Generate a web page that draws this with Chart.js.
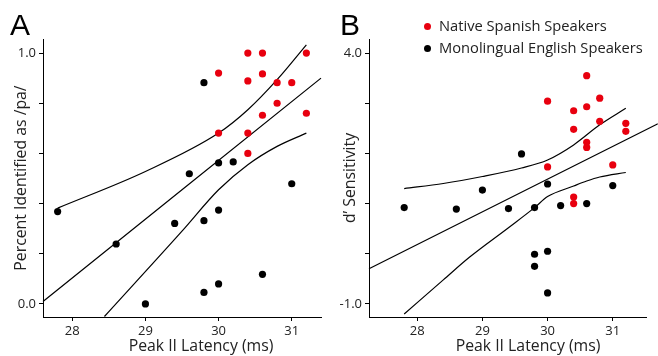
<!DOCTYPE html>
<html>
<head>
<meta charset="utf-8">
<script src="https://cdn.jsdelivr.net/npm/chart.js@4.4.1/dist/chart.umd.min.js"></script>
<style>
  html, body { margin: 0; padding: 0; background: #fff; }
  #wrap { position: relative; width: 658px; height: 356px; font-family: "Open Sans", sans-serif; }
  .panel { position: absolute; top: 0; width: 329px; height: 356px; }
  .letter { position: absolute; font-family: "Liberation Sans", Arial, sans-serif; font-size: 30px; line-height: 30px; color: #000; }
  .legend { position: absolute; left: 424px; top: 15px; font-size: 14.7px; color: #222; line-height: 21.7px; }
  .legend .dot { display: inline-block; width: 7px; height: 7px; border-radius: 50%; margin-right: 8px; vertical-align: 1px; }
  .xtitle { position: absolute; top: 335px; width: 200px; text-align: center; font-size: 15.8px; line-height: 20px; color: #222; white-space: nowrap; }
</style>
</head>
<body>
<div id="wrap">
  <div class="panel" style="left:0"><canvas id="chartA" width="329" height="356"></canvas></div>
  <div class="panel" style="left:329px"><canvas id="chartB" width="329" height="356"></canvas></div>
  <div class="letter" style="left:10px; top:10px">A</div>
  <div class="letter" style="left:340px; top:10px">B</div>
  <div class="xtitle" style="left:101px">Peak II Latency (ms)</div>
  <div class="xtitle" style="left:428px">Peak II Latency (ms)</div>
  <div class="legend">
    <div><span class="dot" style="background:#e8000f"></span>Native Spanish Speakers</div>
    <div><span class="dot" style="background:#000"></span>Monolingual English Speakers</div>
  </div>
</div>
<script>
// Panel A: percent identified as /pa/
const spanishLatA = [30.4, 30.6, 31.2, 30.0, 30.6, 30.4, 30.8, 31.0, 30.8, 30.6, 31.2, 30.0, 30.4, 30.4];
const spanishPctA = [1.0, 1.0, 1.0, 0.92, 0.917, 0.889, 0.882, 0.882, 0.80, 0.752, 0.76, 0.681, 0.681, 0.60];
const englishLatA = [27.8, 28.6, 29.0, 29.4, 29.6, 29.8, 29.8, 29.8, 30.0, 30.0, 30.0, 30.2, 30.6, 31.0];
const englishPctA = [0.368, 0.239, 0.0, 0.321, 0.519, 0.882, 0.332, 0.046, 0.562, 0.374, 0.08, 0.566, 0.118, 0.479];

const fitLatA = [27.6, 31.4];
const fitPctA = [0.01, 0.90];
const upperLatA = [27.8, 29.0, 30.0, 30.4, 30.8, 31.2];
const upperPctA = [0.382, 0.528, 0.681, 0.774, 0.894, 1.033];
const lowerLatA = [28.44, 29.5, 30.0, 30.4, 30.8, 31.2];
const lowerPctA = [-0.05, 0.29, 0.455, 0.555, 0.628, 0.681];

// Panel B: d' sensitivity
const spanishLatB = [30.6, 30.0, 30.8, 30.4, 30.6, 30.8, 31.2, 30.4, 31.2, 30.6, 30.6, 30.0, 31.0, 30.4, 30.4];
const spanishDB = [3.55, 3.04, 3.10, 2.85, 2.93, 2.64, 2.60, 2.48, 2.44, 2.22, 2.12, 1.73, 1.77, 1.13, 1.0];
const englishLatB = [27.8, 28.6, 29.0, 29.4, 29.6, 29.8, 29.8, 29.8, 30.0, 30.0, 30.0, 30.2, 30.6, 31.0];
const englishDB = [0.92, 0.89, 1.27, 0.90, 1.99, 0.92, -0.01, -0.25, 1.39, 0.05, -0.78, 0.96, 1.0, 1.36];

const fitLatB = [27.26, 31.69];
const fitDB = [-0.30, 2.59];
const upperLatB = [27.8, 28.4, 29.0, 29.6, 30.0, 30.4, 30.8, 31.2];
const upperDB = [1.30, 1.40, 1.54, 1.71, 1.87, 2.17, 2.57, 2.90];
const lowerLatB = [27.8, 28.4, 28.8, 29.4, 29.8, 30.0, 30.4, 30.6, 30.8, 31.2];
const lowerDB = [-1.20, -0.52, -0.07, 0.52, 0.92, 1.14, 1.35, 1.45, 1.53, 1.62];

const xTicks = [28, 29, 30, 31];

const RED = '#e8000f';
const TICK_FONT = { family: 'Open Sans', size: 13 };
const TITLE_FONT = { family: 'Open Sans', size: 15.8 };

function pts(xs, ys) {
  return xs.map((x, i) => ({ x: x, y: ys[i] }));
}

function dots(xs, ys, color) {
  return {
    type: 'scatter',
    data: pts(xs, ys),
    backgroundColor: color,
    borderColor: color,
    borderWidth: 0,
    pointRadius: 3.6
  };
}

function curve(xs, ys) {
  return {
    type: 'line',
    data: pts(xs, ys),
    borderColor: '#000',
    borderWidth: 1.2,
    pointRadius: 0,
    fill: false,
    cubicInterpolationMode: 'monotone',
    clip: false
  };
}

function makeChart(id, datasets, opts) {
  return new Chart(document.getElementById(id), {
    type: 'scatter',
    data: { datasets: datasets },
    options: {
      responsive: false,
      animation: false,
      layout: { padding: { top: 39, right: opts.padRight, left: 0, bottom: 0 } },
      plugins: { legend: { display: false }, tooltip: { enabled: false } },
      scales: {
        x: {
          type: 'linear',
          min: opts.xMin,
          max: opts.xMax,
          grid: { drawOnChartArea: false, tickLength: 4, color: '#000' },
          border: { color: '#000', width: 1 },
          afterBuildTicks: s => { s.ticks = xTicks.map(v => ({ value: v })); },
          ticks: { color: '#222', font: TICK_FONT, padding: 2, maxRotation: 0 },
          // axis title is placed as html below the canvas (it sits right of centre)
          title: { display: false },
          afterFit: s => { s.height = 39; }
        },
        y: {
          type: 'linear',
          min: opts.yMin,
          max: opts.yMax,
          grid: { drawOnChartArea: false, tickLength: 4, color: '#000' },
          border: { color: '#000', width: 1 },
          afterBuildTicks: s => { s.ticks = opts.yTicks.map(v => ({ value: v })); },
          ticks: {
            color: '#222',
            font: TICK_FONT,
            padding: 3,
            callback: v => (opts.yLabeled.includes(v) ? v.toFixed(1) : '')
          },
          title: { display: true, text: opts.yTitle, color: '#222', font: TITLE_FONT, padding: { top: 12, bottom: 0 } },
          afterFit: s => { s.width = opts.yWidth; }
        }
      }
    }
  });
}

makeChart('chartA', [
  dots(spanishLatA, spanishPctA, RED),
  dots(englishLatA, englishPctA, '#000'),
  curve(fitLatA, fitPctA),
  curve(upperLatA, upperPctA),
  curve(lowerLatA, lowerPctA)
], {
  xMin: 27.6, xMax: 31.4, yMin: -0.052, yMax: 1.056,
  yTicks: [0, 0.2, 0.4, 0.6, 0.8, 1.0], yLabeled: [0, 1],
  yTitle: 'Percent Identified as /pa/', yWidth: 43, padRight: 8
});

makeChart('chartB', [
  dots(spanishLatB, spanishDB, RED),
  dots(englishLatB, englishDB, '#000'),
  curve(fitLatB, fitDB),
  curve(upperLatB, upperDB),
  curve(lowerLatB, lowerDB)
], {
  xMin: 27.26, xMax: 31.51, yMin: -1.26, yMax: 4.28,
  yTicks: [-1, 0, 1, 2, 3, 4], yLabeled: [-1, 4],
  yTitle: 'd\u2019 Sensitivity', yWidth: 40, padRight: 12
});
</script>
</body>
</html>
